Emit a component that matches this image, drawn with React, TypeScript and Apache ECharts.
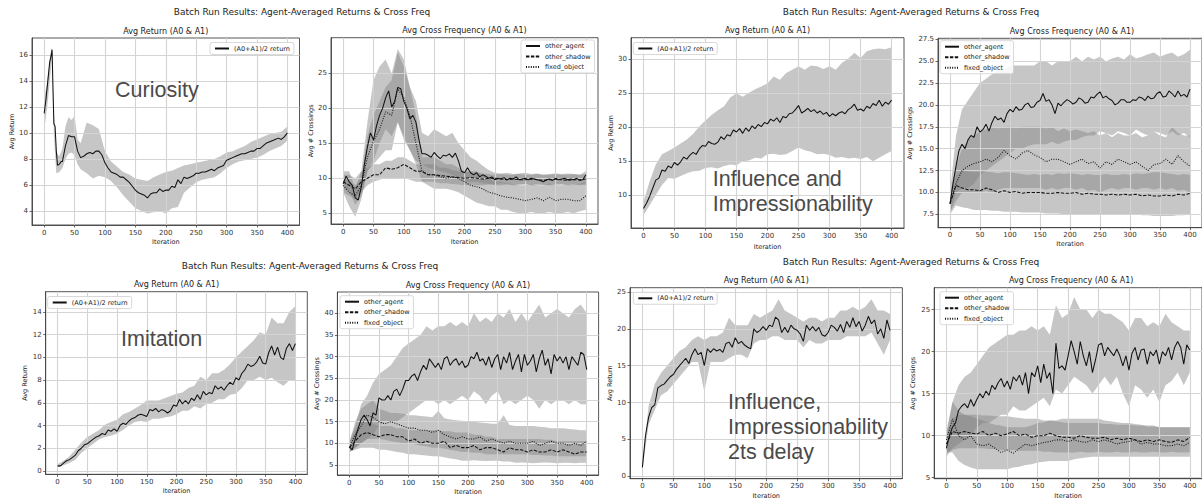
import React, { useEffect, useRef } from "react";
import * as echarts from "echarts";

const FONT = '"DejaVu Sans", Verdana, sans-serif';
const ANNOT_FONT = '"Liberation Sans", Arial, sans-serif';
const BAND = "rgba(128,128,128,0.45)";
const INK = "#111111";

const range = (a: number, b: number, s: number) => {
  const r: number[] = [];
  for (let v = a; v <= b + 1e-9; v += s) r.push(v);
  return r;
};

// iteration grids
const X5 = range(0, 400, 5);
const X10 = range(0, 400, 10);
const X_TICKS = [0, 50, 100, 150, 200, 250, 300, 350, 400];

const SUPTITLE = "Batch Run Results: Agent-Averaged Returns & Cross Freq";
const RET_TITLE = "Avg Return (A0 & A1)";
const CROSS_TITLE = "Avg Cross Frequency (A0 & A1)";
const RET_NAME = "(A0+A1)/2 return";
const AGENT = "other_agent";
const SHADOW = "other_shadow";
const FIXED = "fixed_object";

// ---------- Curiosity : returns ----------
const CUR_RET_X = [0, 3, 6, 9, 12, 13, 15, 16, 18, 20, 22, 25, 28, 30, ...range(35, 400, 5)];
const CUR_RET_MEAN = [
  11.5, 12.6, 14.0, 15.4, 16.1, 16.4, 12.5, 10.7, 10.5, 8.6, 7.5, 7.6, 7.8, 7.8,
  9.0, 9.8, 9.7, 9.7, 8.6, 8.1, 8.2, 8.4, 8.5, 8.4,
  8.6, 8.6, 8.3, 7.7, 7.3, 7.0, 6.9, 6.8, 6.6, 6.6,
  6.4, 6.2, 5.9, 5.6, 5.4, 5.3, 5.2, 5.0, 5.3, 5.4,
  5.4, 5.7, 5.5, 5.6, 5.6, 5.9, 5.8, 6.4, 6.1, 6.6,
  6.5, 6.6, 6.7, 6.9, 6.9, 7.0, 7.0, 7.1, 7.2, 7.1,
  7.3, 7.4, 7.5, 7.9, 8.0, 8.1, 8.2, 8.3, 8.4, 8.4,
  8.5, 8.6, 8.6, 8.8, 8.8, 9.0, 9.2, 9.3, 9.4, 9.5,
  9.6, 9.5, 9.7, 10.0,
];
const CUR_BAND_X = [0, 5, 10, 13, 16, 20, 25, 30, 35, 40, 45, 50, 55, 60, ...range(70, 400, 10)];
const CUR_RET_LO = [
  10.2, 12.0, 14.3, 16.0, 9.8, 6.9, 7.0, 7.3, 8.0, 8.4, 8.5, 8.3, 7.6, 7.2,
  6.9, 6.5, 6.7, 6.6,
  6.3, 5.8, 5.2, 4.7, 4.2, 4.0, 3.8, 3.9, 4.0, 3.8,
  4.2, 4.3, 5.4, 5.8, 6.2, 6.4, 6.5, 6.6, 6.9, 7.3,
  7.6, 7.8, 7.9, 8.0, 8.1, 8.3, 8.6, 8.8, 9.0, 9.4,
];
const CUR_RET_HI = [
  12.7, 13.8, 16.0, 16.6, 11.5, 8.5, 8.2, 8.8, 10.5, 11.2, 11.0, 11.3, 9.5, 9.2,
  10.8, 10.6, 10.3, 8.6,
  7.8, 7.4, 7.0, 6.8, 6.5, 6.4, 6.3, 6.6, 6.8, 7.0,
  7.1, 7.3, 7.5, 7.6, 7.7, 7.8, 7.9, 8.0, 8.2, 8.5,
  8.6, 8.8, 9.0, 9.3, 9.5, 9.7, 9.9, 10.0, 10.1, 10.5,
];

// ---------- Curiosity : crossings ----------
const CUR_AGENT = [
  9.2, 10.3, 9.5, 9.0, 7.2, 6.9, 8.8, 12.0, 14.5, 16.5,
  15.5, 17.5, 19.0, 20.0, 21.5, 22.5, 20.2, 21.0, 23.0, 22.8,
  21.0, 20.0, 18.5, 19.0, 18.0, 15.5, 13.5, 13.5, 13.3, 13.0,
  13.7, 13.2, 12.8, 13.3, 13.2, 13.5, 13.0, 13.6, 12.5, 11.0,
  10.8, 11.5, 10.8, 10.5, 10.8, 10.2, 10.5, 10.3, 10.0, 10.2,
  9.8, 10.0, 9.9, 10.1, 9.8, 10.0, 9.9, 10.2, 9.8, 9.9,
  10.0, 9.8, 10.0, 9.9, 9.8, 9.7, 9.5, 9.8, 9.9, 9.7,
  10.0, 9.8, 9.9, 10.0, 9.8, 9.9, 9.8, 10.0, 9.7, 9.8,
  10.5,
];
const CUR_AGENT_LO = [
  8.5, 8.3, 6.2, 7.5, 11.0, 12.5, 15.0, 17.0, 16.0, 18.0,
  15.5, 14.0, 12.5, 12.0, 11.5, 11.3, 11.0, 10.8, 10.5, 10.0,
  9.5, 9.5, 9.5, 9.3, 9.2, 9.2, 9.3, 9.2, 9.1, 9.2,
  9.2, 9.1, 9.2, 9.0, 9.1, 9.2, 9.1, 9.2, 9.1, 9.0, 9.3,
];
const CUR_AGENT_HI = [
  11.0, 11.0, 8.5, 11.0, 18.0, 24.0, 26.0, 27.0, 25.0, 28.5,
  27.0, 23.0, 21.0, 16.5, 16.0, 17.0, 16.5, 16.0, 16.5, 15.0,
  14.0, 13.0, 12.5, 11.8, 11.2, 10.8, 10.7, 10.8, 10.6, 10.7,
  10.8, 10.6, 10.7, 10.5, 10.6, 10.7, 10.6, 10.7, 10.6, 10.5, 11.0,
];
const CUR_SHADOW = [
  9.5, 9.0, 8.5, 9.5, 10.0, 10.5, 10.5, 11.5, 11.3, 11.5,
  12.0, 11.5, 11.0, 11.0, 10.5, 10.5, 10.4, 10.3, 10.2, 10.1,
  10.0, 10.1, 10.0, 9.9, 10.0, 10.0, 9.9, 9.8, 9.9, 9.8,
  9.8, 9.9, 9.8, 9.7, 9.8, 9.9, 9.8, 9.7, 9.8, 9.8, 9.9,
];
const CUR_SHADOW_LO = [
  8.0, 7.5, 7.0, 8.0, 9.0, 9.5, 9.8, 10.0, 10.0, 10.0,
  10.0, 9.8, 9.5, 9.5, 9.5, 9.5, 9.3, 9.3, 9.2, 9.1,
  9.0, 9.1, 9.0, 9.0, 9.1, 9.0, 9.0, 9.1, 9.0, 9.0,
  9.1, 9.0, 9.0, 9.1, 9.0, 9.0, 9.1, 9.0, 9.0, 9.1, 9.0,
];
const CUR_SHADOW_HI = [
  10.5, 10.5, 10.0, 11.0, 11.5, 12.0, 12.0, 12.5, 12.5, 13.0,
  13.0, 12.5, 12.0, 12.0, 12.0, 12.0, 11.5, 11.5, 11.2, 11.0,
  11.0, 10.8, 10.8, 10.7, 10.6, 10.5, 10.6, 10.5, 10.5, 10.6,
  10.5, 10.5, 10.6, 10.5, 10.5, 10.6, 10.5, 10.5, 10.6, 10.5, 10.6,
];
const CUR_FIXED = [
  9.0, 8.0, 7.5, 9.0, 13.0, 15.3, 17.0, 19.5, 19.0, 22.8,
  21.5, 19.0, 15.0, 11.0, 10.5, 10.5, 10.2, 10.0, 10.2, 10.0,
  9.5, 9.0, 8.8, 8.5, 8.0, 7.8, 7.5, 7.3, 7.2, 7.0,
  6.8, 7.0, 7.2, 6.8, 7.3, 6.8, 7.0, 7.0, 6.8, 6.8, 7.5,
];
const CUR_FIXED_LO = [
  8.0, 6.0, 4.5, 7.0, 11.0, 12.0, 13.0, 14.0, 14.0, 18.0,
  16.0, 14.0, 12.0, 9.5, 9.0, 8.5, 8.5, 8.5, 8.3, 8.0,
  7.5, 7.0, 6.5, 6.3, 6.0, 6.0, 5.5, 5.5, 5.2, 5.0,
  5.0, 5.2, 5.0, 5.0, 5.2, 5.0, 5.0, 5.2, 5.0, 5.3, 5.5,
];
const CUR_FIXED_HI = [
  10.0, 9.5, 9.0, 10.0, 16.0, 19.0, 21.0, 23.0, 24.0, 28.0,
  26.0, 23.0, 19.0, 13.0, 13.0, 13.0, 12.5, 12.0, 12.0, 11.5,
  11.0, 11.0, 11.0, 10.5, 10.0, 9.5, 9.5, 9.3, 9.2, 9.0,
  9.0, 9.2, 9.0, 9.0, 9.3, 9.0, 9.0, 9.2, 9.0, 9.2, 9.5,
];

// ---------- Influence and Impressionability : returns ----------
const INF_RET_MEAN = [
  8.0, 8.8, 9.8, 11.0, 12.2, 12.5, 13.7, 13.5, 14.3, 14.0,
  14.8, 14.4, 14.9, 15.6, 15.3, 15.9, 16.3, 16.0, 16.8, 17.3,
  17.2, 17.9, 17.6, 17.5, 17.8, 18.6, 18.2, 18.9, 18.7, 19.6,
  19.3, 19.8, 19.1, 19.9, 19.4, 20.2, 19.8, 20.4, 20.1, 20.7,
  20.5, 21.2, 20.9, 21.4, 20.7, 21.6, 21.4, 22.0, 22.1, 22.6,
  23.2, 22.1, 22.4, 22.8, 22.3, 22.6, 22.1, 22.4, 21.9, 22.2,
  21.6, 22.0, 21.7, 22.1, 22.3, 22.0, 22.6, 22.9, 23.4, 22.5,
  22.7, 22.4, 23.1, 22.8, 23.5, 23.2, 24.0, 23.1, 23.7, 23.4,
  24.0,
];
const INF_RET_LO = [
  7.0, 8.5, 10.0, 11.5, 12.5, 12.4, 12.8, 13.2, 13.5, 13.6,
  14.0, 14.1, 13.9, 14.3, 14.5, 14.4, 15.0, 15.1, 15.5, 15.4,
  16.0, 16.1, 15.9, 16.0, 16.5, 17.0, 16.6, 16.4, 16.0, 16.1,
  15.9, 15.5, 15.6, 15.4, 15.5, 15.3, 15.6, 15.0, 15.5, 16.0, 16.5,
];
const INF_RET_HI = [
  9.0, 12.0, 14.5, 16.0, 16.5, 17.0, 17.6, 18.2, 19.0, 20.1,
  21.0, 21.8, 22.5, 23.1, 24.4, 25.0, 24.5, 25.1, 25.6, 26.0,
  26.5, 27.5, 27.0, 28.0, 28.5, 29.0, 28.5, 29.1, 29.0, 28.6,
  29.0, 28.5, 29.5, 30.1, 31.0, 30.2, 31.2, 31.5, 31.6, 31.5, 31.8,
];

// ---------- Influence and Impressionability : crossings ----------
const INF_AGENT = [
  8.7, 11.0, 13.0, 14.8, 15.5, 15.0, 16.0, 16.5, 16.3, 17.5,
  16.9, 17.2, 17.8, 17.0, 18.0, 18.7, 18.3, 18.5, 18.0, 19.0,
  19.5, 19.2, 19.8, 19.4, 19.5, 20.0, 20.2, 19.7, 19.8, 20.3,
  20.5, 21.3, 20.4, 20.6, 20.0, 19.0, 20.2, 19.9, 20.3, 20.6,
  20.4, 20.1, 20.3, 20.8, 20.6, 20.2, 20.3, 20.9, 20.8, 21.2,
  21.5, 20.8, 21.0, 20.7, 20.5, 20.0, 20.2, 20.6, 20.6, 20.3,
  20.3, 20.6, 20.5, 20.9, 20.8, 20.5, 21.0, 20.7, 20.8, 21.3,
  21.5, 20.9, 21.0, 21.6, 21.3, 20.9, 21.6, 21.0, 21.2, 20.9,
  21.8,
];
const INF_AGENT_LO = [
  7.5, 10.0, 10.5, 10.5, 11.0, 12.0, 12.5, 13.0, 13.5, 14.0,
  14.5, 15.0, 15.0, 15.3, 15.5, 15.5, 15.5, 15.8, 15.5, 15.8,
  16.0, 16.0, 16.3, 16.5, 16.5, 17.0, 16.8, 16.5, 17.0, 16.8,
  16.5, 17.2, 16.8, 16.5, 17.0, 16.8, 16.5, 17.0, 16.5, 16.8, 16.3,
];
const INF_AGENT_HI = [
  10.0, 16.5, 19.5, 20.5, 21.5, 22.5, 23.0, 23.5, 24.0, 24.0,
  24.5, 24.5, 24.5, 24.5, 24.5, 25.0, 25.0, 24.5, 25.0, 25.0,
  25.0, 25.5, 25.0, 25.5, 25.2, 25.5, 25.0, 25.3, 25.5, 25.2,
  25.8, 25.3, 25.5, 25.8, 26.0, 25.5, 25.8, 26.0, 25.5, 25.8, 26.3,
];
const INF_SHADOW = [
  8.7, 10.8, 10.5, 10.3, 10.3, 10.2, 10.5, 10.3, 10.0, 10.2,
  10.0, 10.1, 9.9, 10.0, 10.0, 10.0, 9.9, 9.9, 10.0, 9.9,
  9.9, 10.0, 9.8, 9.9, 9.8, 9.8, 9.7, 9.8, 9.7, 9.8,
  9.7, 9.8, 9.6, 9.7, 9.6, 9.6, 9.7, 9.6, 9.8, 9.7, 9.9,
];
const INF_SHADOW_LO = [
  7.5, 8.5, 8.3, 8.2, 8.0, 8.0, 8.0, 7.9, 7.9, 7.8,
  7.8, 7.8, 7.7, 7.7, 7.7, 7.7, 7.6, 7.6, 7.6, 7.5,
  7.5, 7.5, 7.5, 7.5, 7.5, 7.5, 7.5, 7.5, 7.5, 7.5,
  7.5, 7.5, 7.4, 7.4, 7.3, 7.3, 7.3, 7.3, 7.4, 7.4, 7.5,
];
const INF_SHADOW_HI = [
  9.5, 12.0, 12.5, 12.4, 12.3, 12.3, 12.4, 12.3, 12.2, 12.3,
  12.3, 12.2, 12.1, 12.0, 12.1, 12.0, 12.1, 12.0, 12.2, 12.1,
  12.2, 12.1, 12.0, 12.1, 12.0, 12.0, 12.1, 12.0, 12.0, 12.1,
  12.0, 12.2, 12.1, 12.2, 12.3, 12.3, 12.2, 12.1, 12.0, 12.1, 12.0,
];
const INF_FIXED = [
  8.8, 11.0, 12.5, 13.0, 13.3, 13.5, 13.8, 13.5, 14.0, 14.8,
  14.2, 13.8, 14.5, 14.8, 14.3, 14.0, 13.5, 13.8, 13.8, 13.5,
  13.2, 13.5, 13.8, 13.3, 13.5, 12.8, 13.5, 13.2, 13.8, 13.5,
  13.2, 13.5, 13.0, 12.5, 13.2, 13.3, 13.8, 13.2, 14.2, 13.5, 13.0,
];
const INF_FIXED_LO = [
  7.8, 9.0, 10.0, 10.0, 10.0, 10.0, 10.2, 10.0, 10.3, 10.5,
  10.5, 10.5, 10.5, 10.5, 10.5, 10.5, 10.3, 10.5, 10.3, 10.5,
  10.5, 10.3, 10.5, 10.2, 10.3, 10.0, 10.3, 10.5, 10.3, 10.5,
  10.5, 10.3, 10.5, 10.5, 10.3, 10.5, 10.3, 10.5, 10.2, 10.3, 10.0,
];
const INF_FIXED_HI = [
  9.8, 13.0, 15.0, 16.0, 16.5, 17.0, 17.2, 17.5, 17.3, 17.5,
  17.5, 17.3, 17.5, 17.5, 17.5, 17.5, 17.3, 17.5, 17.0, 17.3,
  17.0, 17.2, 17.0, 16.8, 17.0, 16.5, 16.8, 16.3, 16.8, 16.5,
  16.5, 16.8, 16.3, 16.5, 17.0, 16.5, 16.3, 17.5, 16.8, 16.5, 16.5,
];

// ---------- Imitation : returns ----------
const IMI_RET_MEAN = [
  0.45, 0.45, 0.7, 0.9, 1.0, 1.2, 1.4, 1.8, 2.0, 2.3,
  2.4, 2.6, 2.8, 3.0, 3.1, 3.3, 3.2, 3.6, 3.5, 3.7,
  3.5, 4.0, 4.2, 4.1, 4.4, 4.6, 4.7, 4.9, 5.0, 4.9,
  4.8, 5.4, 5.3, 5.5, 5.2, 5.4, 5.3, 5.1, 5.3, 5.8,
  5.7, 6.3, 5.9, 6.2, 5.9, 6.4, 6.2, 6.7, 6.3, 7.0,
  6.7, 6.9, 6.8, 7.5, 7.2, 7.4, 7.1, 7.5, 7.8, 7.6,
  8.2, 8.0, 8.6, 8.9, 9.4, 9.2, 9.3, 9.6, 10.1, 9.5,
  9.4, 10.4, 11.0, 10.2, 10.9, 10.0, 9.8, 10.8, 11.2, 10.6,
  11.2,
];
const IMI_RET_LO = [
  0.3, 0.5, 0.7, 1.0, 1.6, 2.0, 2.4, 2.8, 3.0, 3.1,
  3.3, 3.6, 4.0, 4.3, 4.4, 4.3, 4.6, 4.6, 4.7, 4.8,
  5.0, 5.3, 5.3, 5.7, 5.5, 5.9, 6.0, 6.3, 6.3, 6.7,
  6.8, 7.3, 8.0, 8.0, 8.3, 8.0, 8.2, 7.8, 7.5, 8.0, 8.0,
];
const IMI_RET_HI = [
  0.6, 0.9, 1.3, 1.9, 2.5, 3.0, 3.3, 3.6, 4.1, 4.3,
  4.5, 5.0, 5.2, 5.5, 5.8, 6.2, 6.2, 6.2, 6.4, 6.6,
  6.8, 6.9, 7.3, 7.5, 8.3, 8.0, 8.6, 8.6, 8.9, 9.4,
  10.0, 10.5, 11.0, 11.5, 12.2, 12.0, 13.5, 13.0, 13.0, 14.0, 14.5,
];

// ---------- Imitation : crossings ----------
const IMI_AGENT = [
  9.2, 8.5, 11.0, 13.5, 15.5, 16.5, 15.5, 14.0, 17.0, 16.5,
  20.5, 20.0, 20.0, 21.0, 20.0, 22.0, 22.5, 21.0, 22.5, 24.5,
  24.5, 25.5, 26.0, 24.5, 26.5, 28.0, 27.0, 29.5, 28.5, 27.5,
  28.5, 27.0, 29.5, 30.0, 28.0, 29.0, 29.5, 28.0, 29.0, 27.5,
  28.0, 30.0, 29.5, 31.0, 29.0, 29.5, 28.0, 30.0, 27.5, 29.5,
  30.5, 27.0, 30.0, 28.5, 31.0, 27.0, 29.0, 30.5, 26.5, 30.5,
  28.0, 29.0, 30.5, 26.5, 29.5, 31.5, 28.0, 29.5, 26.0, 30.5,
  29.0, 30.0, 28.5, 30.0, 27.0, 30.0, 29.0, 28.0, 31.0, 30.5,
  27.0,
];
const IMI_AGENT_LO = [
  8.0, 9.0, 10.0, 11.0, 12.0, 14.0, 15.0, 15.0, 15.0, 16.0,
  17.0, 18.0, 19.0, 20.0, 20.0, 19.0, 20.0, 19.0, 20.0, 21.0,
  20.0, 22.0, 21.0, 19.0, 21.0, 22.0, 19.0, 20.0, 19.0, 20.0,
  21.0, 20.0, 18.0, 20.0, 19.0, 20.0, 20.0, 19.0, 20.0, 19.0, 19.0,
];
const IMI_AGENT_HI = [
  10.5, 14.0, 19.0, 21.0, 24.0, 26.0, 27.0, 28.0, 30.0, 32.0,
  33.0, 34.0, 35.0, 37.0, 36.0, 37.0, 37.0, 38.0, 37.0, 38.0,
  37.0, 40.0, 38.0, 39.0, 38.0, 40.0, 39.0, 41.0, 38.0, 40.0,
  38.0, 40.0, 42.0, 39.0, 40.0, 41.0, 40.0, 39.0, 41.0, 42.0, 40.0,
];
const IMI_SHADOW = [
  9.0, 10.5, 12.0, 12.5, 12.0, 11.5, 12.0, 12.0, 11.5, 11.5,
  10.5, 11.0, 10.0, 10.5, 10.0, 10.0, 10.5, 9.0, 9.5, 9.0,
  9.0, 9.5, 8.5, 9.0, 9.0, 8.5, 8.0, 9.0, 8.5, 8.5,
  8.0, 8.5, 8.0, 8.0, 8.5, 8.0, 8.5, 8.0, 7.5, 8.0, 8.0,
];
const IMI_SHADOW_LO = [
  8.0, 8.5, 9.0, 9.0, 9.0, 8.5, 8.5, 8.3, 8.0, 7.8,
  7.5, 7.5, 7.3, 7.2, 7.0, 7.0, 6.8, 6.5, 6.3, 6.0,
  6.0, 6.1, 6.0, 5.9, 6.0, 6.0, 5.8, 5.8, 5.5, 5.6,
  5.5, 5.4, 5.5, 5.6, 5.5, 5.4, 5.5, 5.5, 5.4, 5.5, 5.5,
];
const IMI_SHADOW_HI = [
  10.0, 13.0, 15.0, 15.0, 14.5, 14.0, 14.0, 14.0, 13.5, 13.5,
  13.0, 13.0, 13.0, 13.0, 13.0, 13.0, 12.8, 12.8, 12.5, 12.5,
  12.5, 12.0, 12.0, 11.5, 11.5, 11.0, 11.0, 11.0, 11.0, 11.0,
  11.0, 11.0, 11.0, 10.8, 10.8, 10.5, 10.5, 10.5, 10.5, 10.5, 10.5,
];
const IMI_FIXED = [
  9.0, 12.0, 14.0, 16.5, 16.0, 15.0, 14.5, 15.0, 14.5, 14.0,
  13.5, 13.5, 13.0, 13.0, 12.5, 13.0, 12.0, 11.5, 11.0, 11.5,
  11.0, 11.0, 11.5, 10.5, 11.0, 10.5, 10.0, 10.5, 10.0, 10.0,
  10.0, 10.5, 9.5, 10.0, 10.5, 10.0, 10.0, 9.5, 10.0, 9.5, 10.5,
];
const IMI_FIXED_LO = [
  8.0, 9.0, 10.0, 11.0, 11.0, 11.0, 10.8, 10.5, 10.3, 10.0,
  10.0, 9.8, 9.5, 9.3, 9.0, 9.0, 8.8, 8.5, 8.3, 8.0,
  8.0, 7.8, 7.8, 7.5, 7.5, 7.5, 7.5, 7.5, 7.5, 7.5,
  7.5, 7.3, 7.3, 7.2, 7.2, 7.0, 7.0, 7.0, 7.0, 7.0, 7.0,
];
const IMI_FIXED_HI = [
  10.0, 15.0, 18.0, 19.0, 20.0, 18.0, 17.5, 17.0, 17.0, 16.8,
  16.5, 16.5, 16.3, 16.2, 16.0, 17.5, 15.8, 15.5, 15.3, 15.2,
  15.0, 15.0, 14.8, 14.7, 14.5, 14.5, 16.5, 14.2, 14.0, 14.0,
  14.0, 14.0, 13.8, 13.7, 13.5, 13.5, 13.5, 13.3, 13.2, 13.0, 13.0,
];

// ---------- Influence, Impressionability 2ts delay : returns ----------
const DEL_RET_MEAN = [
  1.2, 5.5, 8.0, 9.3, 9.7, 12.0, 12.3, 12.5, 13.0, 13.5,
  13.8, 14.5, 15.0, 15.5, 16.0, 15.3, 16.5, 17.3, 16.5, 16.8,
  15.0, 17.3, 16.8, 17.3, 17.0, 17.2, 16.8, 18.0, 18.2, 17.5,
  18.8, 18.0, 18.3, 17.8, 17.5, 17.3, 20.0, 19.5, 19.8, 20.3,
  19.8, 20.5, 20.3, 21.6, 21.2, 19.5, 20.2, 19.5, 20.5, 20.0,
  19.8, 19.3, 18.3, 20.5, 19.8, 20.3, 19.7, 20.2, 19.2, 19.0,
  19.5, 20.5, 20.2, 19.7, 20.6, 19.5, 21.0, 20.2, 21.5, 20.3,
  21.0, 19.7, 20.5, 21.7, 20.7, 21.2, 19.3, 20.0, 18.7, 21.2,
  19.8,
];
const DEL_RET_LO = [
  0.8, 7.0, 9.0, 11.0, 11.5, 12.5, 13.5, 14.5, 15.5, 15.5,
  11.5, 15.5, 15.5, 15.5, 16.0, 16.5, 16.5, 16.0, 18.0, 18.5,
  18.5, 19.0, 19.0, 18.5, 18.5, 18.5, 17.5, 18.5, 18.0, 18.0,
  18.5, 18.5, 18.5, 19.0, 19.0, 19.0, 19.0, 19.5, 18.0, 16.5, 18.5,
];
const DEL_RET_HI = [
  1.8, 9.5, 12.5, 14.0, 15.0, 16.0, 17.0, 17.5, 18.5, 19.0,
  18.5, 19.0, 19.0, 19.5, 21.5, 20.5, 20.5, 20.5, 22.0, 21.5,
  22.0, 22.5, 24.0, 22.5, 22.0, 21.5, 21.0, 21.5, 21.5, 21.0,
  21.5, 21.5, 22.5, 22.5, 23.0, 22.5, 23.0, 24.0, 22.5, 22.5, 22.0,
];

// ---------- Influence, Impressionability 2ts delay : crossings ----------
const DEL_AGENT = [
  8.5, 10.0, 11.0, 11.5, 13.0, 13.5, 13.8, 13.3, 14.3, 13.5,
  14.3, 15.0, 14.5, 15.3, 14.8, 16.0, 15.5, 16.3, 16.8, 15.8,
  16.5, 15.5, 17.0, 16.5, 17.2, 16.0, 17.5, 15.0, 17.5, 17.0,
  18.3, 16.3, 18.5, 16.8, 17.5, 15.0, 21.0, 18.0, 18.3, 17.8,
  19.5, 21.3, 20.0, 18.5, 21.2, 19.5, 18.3, 20.0, 17.5, 19.0,
  20.8, 21.0, 19.5, 20.5, 20.0, 19.5, 20.3, 19.5, 18.3, 19.5,
  17.8, 19.8, 20.5, 19.0, 20.2, 20.3, 18.5, 20.0, 19.5, 20.2,
  18.5, 20.0, 19.5, 20.5, 19.0, 20.5, 21.2, 20.5, 18.5, 20.8,
  20.2,
];
const DEL_AGENT_LO = [
  7.5, 8.5, 9.0, 9.5, 10.0, 11.0, 11.5, 11.5, 12.0, 12.5,
  12.5, 13.5, 13.0, 13.0, 13.5, 14.0, 14.5, 13.5, 15.5, 15.0,
  16.0, 17.0, 16.5, 16.0, 15.0, 16.0, 17.0, 16.0, 17.0, 15.0,
  13.5, 16.0, 15.5, 14.5, 15.5, 14.0, 16.0, 16.5, 17.5, 16.0, 17.5,
];
const DEL_AGENT_HI = [
  10.0, 14.0, 16.0, 17.0, 17.5, 18.5, 19.5, 20.5, 21.0, 21.5,
  22.0, 22.0, 22.5, 22.5, 23.0, 22.5, 23.0, 22.0, 25.5, 24.0,
  24.5, 26.5, 25.0, 25.0, 24.0, 25.0, 24.5, 24.5, 24.0, 23.5,
  22.5, 24.0, 24.0, 23.0, 23.5, 23.0, 24.5, 23.5, 23.0, 22.5, 22.5,
];
const DEL_SHADOW = [
  9.0, 10.5, 10.3, 10.5, 10.3, 10.2, 10.5, 10.0, 10.3, 10.0,
  10.2, 10.5, 10.0, 10.2, 9.8, 10.0, 10.0, 10.3, 10.0, 9.8,
  9.8, 9.7, 10.0, 9.8, 9.7, 9.7, 9.8, 9.5, 9.7, 9.5,
  9.7, 9.5, 9.3, 9.5, 9.3, 9.5, 9.3, 9.2, 9.5, 9.3, 9.8,
];
const DEL_SHADOW_LO = [
  8.0, 8.3, 8.5, 8.5, 8.5, 8.5, 8.5, 8.4, 8.4, 8.3,
  8.3, 8.3, 8.2, 8.2, 8.2, 8.2, 8.1, 8.1, 8.0, 8.0,
  8.0, 8.0, 8.1, 8.0, 8.0, 8.1, 8.0, 8.0, 8.1, 8.0,
  8.0, 8.1, 8.0, 8.0, 8.1, 8.0, 8.0, 8.1, 8.0, 8.0, 8.0,
];
const DEL_SHADOW_HI = [
  10.0, 12.0, 12.5, 12.5, 12.5, 12.5, 12.4, 12.4, 12.3, 12.3,
  12.3, 12.2, 12.1, 12.0, 12.0, 12.0, 11.8, 11.8, 11.7, 11.6,
  11.5, 11.5, 11.5, 11.5, 11.5, 11.5, 11.4, 11.4, 11.3, 11.3,
  11.3, 11.2, 11.2, 11.1, 11.1, 11.0, 11.0, 11.0, 11.0, 11.0, 11.0,
];
const DEL_FIXED = [
  9.5, 12.0, 10.0, 9.5, 10.0, 9.0, 8.8, 9.0, 8.5, 8.0,
  8.3, 7.9, 8.5, 9.0, 8.8, 9.0, 9.2, 9.3, 9.5, 9.5,
  9.3, 9.5, 9.3, 9.2, 9.5, 9.3, 9.5, 9.3, 9.0, 9.2,
  9.3, 9.5, 9.0, 9.2, 9.0, 9.0, 8.8, 8.8, 9.0, 8.8, 9.2,
];
const DEL_FIXED_LO = [
  8.0, 8.0, 7.0, 6.5, 6.2, 6.0, 6.0, 6.0, 6.0, 6.0,
  6.0, 6.2, 6.3, 6.5, 6.6, 6.8, 6.9, 7.0, 7.0, 7.0,
  7.0, 7.2, 7.3, 7.4, 7.5, 7.5, 7.5, 7.5, 7.5, 7.5,
  7.5, 7.5, 7.5, 7.5, 7.5, 7.5, 7.5, 7.5, 7.5, 7.5, 7.5,
];
const DEL_FIXED_HI = [
  10.5, 14.0, 13.0, 12.5, 12.3, 12.0, 11.8, 11.5, 11.3, 11.2,
  11.0, 11.0, 11.0, 11.0, 11.2, 11.5, 11.6, 11.8, 11.8, 12.0,
  12.0, 12.0, 12.0, 12.0, 12.0, 12.0, 11.8, 11.7, 11.6, 11.5,
  11.5, 11.4, 11.3, 11.2, 11.2, 11.0, 11.0, 11.0, 11.0, 11.0, 11.0,
];

// y tick labels per panel
const YT_CUR_RET = [4, 6, 8, 10, 12, 14, 16];
const YT_CUR_CROSS = [5, 10, 15, 20, 25];
const YT_INF_RET = [10, 15, 20, 25, 30];
const YT_INF_CROSS = [7.5, 10, 12.5, 15, 17.5, 20, 22.5, 25, 27.5];
const YT_IMI_RET = [0, 2, 4, 6, 8, 10, 12, 14];
const YT_IMI_CROSS = [5, 10, 15, 20, 25, 30, 35, 40];
const YT_DEL_RET = [0, 5, 10, 15, 20, 25];
const YT_DEL_CROSS = [5, 10, 15, 20, 25];

type Dash = "solid" | "dashed" | "dotted";
type LineDef = { name: string; x: number[]; y: number[]; dash: Dash };
type BandDef = { x: number[]; lo: number[]; hi: number[] };
type PanelDef = {
  box: [number, number, number, number];
  yRange: [number, number];
  step: number;
  yTicks: number[];
  dec: number;
  title: string;
  yName: string;
  yGap: number;
  xGap: number;
  legend: [number, number];
  bands: BandDef[];
  lines: LineDef[];
};

const crossLines = (a: number[], s: number[], f: number[]): LineDef[] => [
  { name: AGENT, x: X5, y: a, dash: "solid" },
  { name: SHADOW, x: X10, y: s, dash: "dashed" },
  { name: FIXED, x: X10, y: f, dash: "dotted" },
];

const PANELS: PanelDef[] = [
  {
    box: [32, 38, 267.5, 187], yRange: [2.92, 17.3], step: 2, yTicks: YT_CUR_RET, dec: 0,
    title: RET_TITLE, yName: "Avg Return", yGap: 16.5, xGap: 13.5, legend: [210, 42.5],
    bands: [{ x: CUR_BAND_X, lo: CUR_RET_LO, hi: CUR_RET_HI }],
    lines: [{ name: RET_NAME, x: CUR_RET_X, y: CUR_RET_MEAN, dash: "solid" }],
  },
  {
    box: [331, 37.7, 267, 186.3], yRange: [3.47, 30.1], step: 5, yTicks: YT_CUR_CROSS, dec: 0,
    title: CROSS_TITLE, yName: "Avg # Crossings", yGap: 16.5, xGap: 14.5, legend: [521, 40],
    bands: [
      { x: X10, lo: CUR_AGENT_LO, hi: CUR_AGENT_HI },
      { x: X10, lo: CUR_SHADOW_LO, hi: CUR_SHADOW_HI },
      { x: X10, lo: CUR_FIXED_LO, hi: CUR_FIXED_HI },
    ],
    lines: crossLines(CUR_AGENT, CUR_SHADOW, CUR_FIXED),
  },
  {
    box: [631, 37.7, 273, 190.3], yRange: [5.14, 33.21], step: 5, yTicks: YT_INF_RET, dec: 0,
    title: RET_TITLE, yName: "Avg Return", yGap: 16.5, xGap: 15, legend: [633.3, 42.5],
    bands: [{ x: X10, lo: INF_RET_LO, hi: INF_RET_HI }],
    lines: [{ name: RET_NAME, x: X5, y: INF_RET_MEAN, dash: "solid" }],
  },
  {
    box: [938, 38.3, 268, 189.4], yRange: [5.97, 27.61], step: 2.5, yTicks: YT_INF_CROSS, dec: 1,
    title: CROSS_TITLE, yName: "Avg # Crossings", yGap: 24.5, xGap: 13, legend: [940, 40.7],
    bands: [
      { x: X10, lo: INF_AGENT_LO, hi: INF_AGENT_HI },
      { x: X10, lo: INF_SHADOW_LO, hi: INF_SHADOW_HI },
      { x: X10, lo: INF_FIXED_LO, hi: INF_FIXED_HI },
    ],
    lines: crossLines(INF_AGENT, INF_SHADOW, INF_FIXED),
  },
  {
    box: [45.7, 291.7, 261.6, 182.6], yRange: [-0.29, 15.77], step: 2, yTicks: YT_IMI_RET, dec: 0,
    title: RET_TITLE, yName: "Avg Return", yGap: 17, xGap: 13.5, legend: [47.7, 296.5],
    bands: [{ x: X10, lo: IMI_RET_LO, hi: IMI_RET_HI }],
    lines: [{ name: RET_NAME, x: X5, y: IMI_RET_MEAN, dash: "solid" }],
  },
  {
    box: [337.4, 292, 261.2, 183], yRange: [2.69, 44.91], step: 5, yTicks: YT_IMI_CROSS, dec: 0,
    title: CROSS_TITLE, yName: "Avg # Crossings", yGap: 17, xGap: 13, legend: [340, 295.7],
    bands: [
      { x: X10, lo: IMI_AGENT_LO, hi: IMI_AGENT_HI },
      { x: X10, lo: IMI_SHADOW_LO, hi: IMI_SHADOW_HI },
      { x: X10, lo: IMI_FIXED_LO, hi: IMI_FIXED_HI },
    ],
    lines: crossLines(IMI_AGENT, IMI_SHADOW, IMI_FIXED),
  },
  {
    box: [630, 287.7, 272.4, 191], yRange: [-0.33, 25.58], step: 5, yTicks: YT_DEL_RET, dec: 0,
    title: RET_TITLE, yName: "Avg Return", yGap: 16.5, xGap: 14, legend: [633.3, 292.3],
    bands: [{ x: X10, lo: DEL_RET_LO, hi: DEL_RET_HI }],
    lines: [{ name: RET_NAME, x: X5, y: DEL_RET_MEAN, dash: "solid" }],
  },
  {
    box: [934.2, 287.7, 274, 191], yRange: [4.88, 27.6], step: 5, yTicks: YT_DEL_CROSS, dec: 0,
    title: CROSS_TITLE, yName: "Avg # Crossings", yGap: 17.5, xGap: 14, legend: [940, 291.7],
    bands: [
      { x: X10, lo: DEL_AGENT_LO, hi: DEL_AGENT_HI },
      { x: X10, lo: DEL_SHADOW_LO, hi: DEL_SHADOW_HI },
      { x: X10, lo: DEL_FIXED_LO, hi: DEL_FIXED_HI },
    ],
    lines: crossLines(DEL_AGENT, DEL_SHADOW, DEL_FIXED),
  },
];

const SUPTITLES: [number, number][] = [
  [302, 12],
  [911, 12],
  [310, 266],
  [911, 262],
];

const ANNOTATIONS: { text: string; x: number; y: number }[] = [
  { text: "Curiosity", x: 115, y: 90 },
  { text: "Influence and", x: 712.7, y: 179 },
  { text: "Impressionability", x: 712.7, y: 203.5 },
  { text: "Imitation", x: 121, y: 339 },
  { text: "Influence,", x: 728, y: 401.7 },
  { text: "Impressionability", x: 728, y: 426.7 },
  { text: "2ts delay", x: 728, y: 451.7 },
];

const DASHES: Record<Dash, any> = {
  solid: "solid",
  dashed: [3.4, 1.5],
  dotted: [1, 1.4],
};

function bandSeries(gi: number, b: BandDef) {
  return {
    type: "custom",
    xAxisIndex: gi,
    yAxisIndex: gi,
    silent: true,
    z: 2,
    clip: true,
    data: b.x.map((x, i) => [x, b.lo[i], b.hi[i]]),
    encode: { x: 0, y: [1, 2] },
    renderItem: (params: any, api: any) => {
      if (params.dataIndex !== 0) return null;
      const top = b.x.map((x, i) => api.coord([x, b.hi[i]]));
      const bot = b.x.map((x, i) => api.coord([x, b.lo[i]])).reverse();
      return {
        type: "polygon",
        shape: { points: top.concat(bot) },
        style: { fill: BAND, stroke: "none" },
      };
    },
  };
}

function buildOption() {
  const grids: any[] = [];
  const xAxes: any[] = [];
  const yAxes: any[] = [];
  const series: any[] = [];
  const legends: any[] = [];
  const graphics: any[] = [];

  PANELS.forEach((p, gi) => {
    const [l, t, w, h] = p.box;
    grids.push({
      left: l, top: t, width: w, height: h, show: true,
      borderColor: "#444", borderWidth: 0.9, backgroundColor: "transparent",
    });
    xAxes.push({
      type: "value", gridIndex: gi, min: -20, max: 420, minInterval: 50, maxInterval: 50, z: 3,
      name: "Iteration", nameLocation: "middle", nameGap: p.xGap,
      nameTextStyle: { fontSize: 6.5, fontFamily: FONT, color: "#222" },
      axisLine: { show: true, onZero: false, lineStyle: { color: "#444", width: 0.9 } },
      axisTick: { show: true, length: 2.5, customValues: X_TICKS, lineStyle: { color: "#444", width: 0.8 } },
      axisLabel: { fontSize: 7, margin: 4, color: "#333", fontFamily: FONT, customValues: X_TICKS },
      splitLine: { show: true, lineStyle: { color: "#d4d4d4", width: 1.1 } },
    });
    yAxes.push({
      type: "value", gridIndex: gi, min: p.yRange[0], max: p.yRange[1],
      minInterval: p.step, maxInterval: p.step, z: 3,
      name: p.yName, nameLocation: "middle", nameGap: p.yGap, nameRotate: 90,
      nameTextStyle: { fontSize: 6.5, fontFamily: FONT, color: "#222" },
      axisLine: { show: true, onZero: false, lineStyle: { color: "#444", width: 0.9 } },
      axisTick: { show: true, length: 2.5, customValues: p.yTicks, lineStyle: { color: "#444", width: 0.8 } },
      axisLabel: {
        fontSize: 7, margin: 4, color: "#333", fontFamily: FONT, customValues: p.yTicks,
        formatter: (v: number) => v.toFixed(p.dec),
      },
      splitLine: { show: true, lineStyle: { color: "#d4d4d4", width: 1.1 } },
    });

    p.bands.forEach((b) => series.push(bandSeries(gi, b)));

    p.lines.forEach((ln) => {
      series.push({
        type: "line", name: ln.name, xAxisIndex: gi, yAxisIndex: gi,
        data: ln.x.map((x, i) => [x, ln.y[i]]),
        symbol: "none", silent: true, z: 5,
        color: INK,
        lineStyle: { color: INK, width: 1.05, type: DASHES[ln.dash] },
        itemStyle: { color: INK },
        emphasis: { disabled: true },
      });
    });

    legends.push({
      orient: "vertical", left: p.legend[0], top: p.legend[1],
      itemWidth: 14, itemHeight: 7, itemGap: 3.5, padding: [2.5, 4, 2.5, 4],
      borderColor: "#cfcfcf", borderWidth: 0.8, borderRadius: 2,
      backgroundColor: "rgba(255,255,255,0.85)", selectedMode: false, z: 10,
      itemStyle: { opacity: 0 },
      inactiveColor: "#222",
      textStyle: { fontSize: 6.5, fontFamily: FONT, color: "#222" },
      data: p.lines.map((ln) => ({ name: ln.name, textStyle: { color: "#222", fontSize: 6.5, fontFamily: FONT } })),
    });

    graphics.push({
      type: "text", x: l + w / 2, y: t - 7, z: 10, silent: true,
      style: { text: p.title, fontSize: 8, fontFamily: FONT, fill: "#222", align: "center", verticalAlign: "middle" },
    });
  });

  SUPTITLES.forEach(([x, y]) => {
    graphics.push({
      type: "text", x, y, z: 10, silent: true,
      style: { text: SUPTITLE, fontSize: 9, fontFamily: FONT, fill: "#222", align: "center", verticalAlign: "middle" },
    });
  });

  ANNOTATIONS.forEach((a) => {
    graphics.push({
      type: "text", x: a.x, y: a.y, z: 20, silent: true,
      style: { text: a.text, fontSize: 21.5, fontFamily: ANNOT_FONT, fill: "#4a4a4a", align: "left", verticalAlign: "middle" },
    });
  });

  return {
    animation: false,
    backgroundColor: "#ffffff",
    color: [INK],
    grid: grids,
    xAxis: xAxes,
    yAxis: yAxes,
    legend: legends,
    series,
    graphic: graphics,
  };
}

export default function App() {
  const ref = useRef<HTMLDivElement>(null);
  useEffect(() => {
    if (!ref.current) return;
    const chart = echarts.init(ref.current, null, { renderer: "svg" });
    chart.setOption(buildOption());
    return () => chart.dispose();
  }, []);
  return (
    <div
      ref={ref}
      style={{ position: "fixed", left: 0, top: 0, width: 1202, height: 502, background: "#fff" }}
    />
  );
}
